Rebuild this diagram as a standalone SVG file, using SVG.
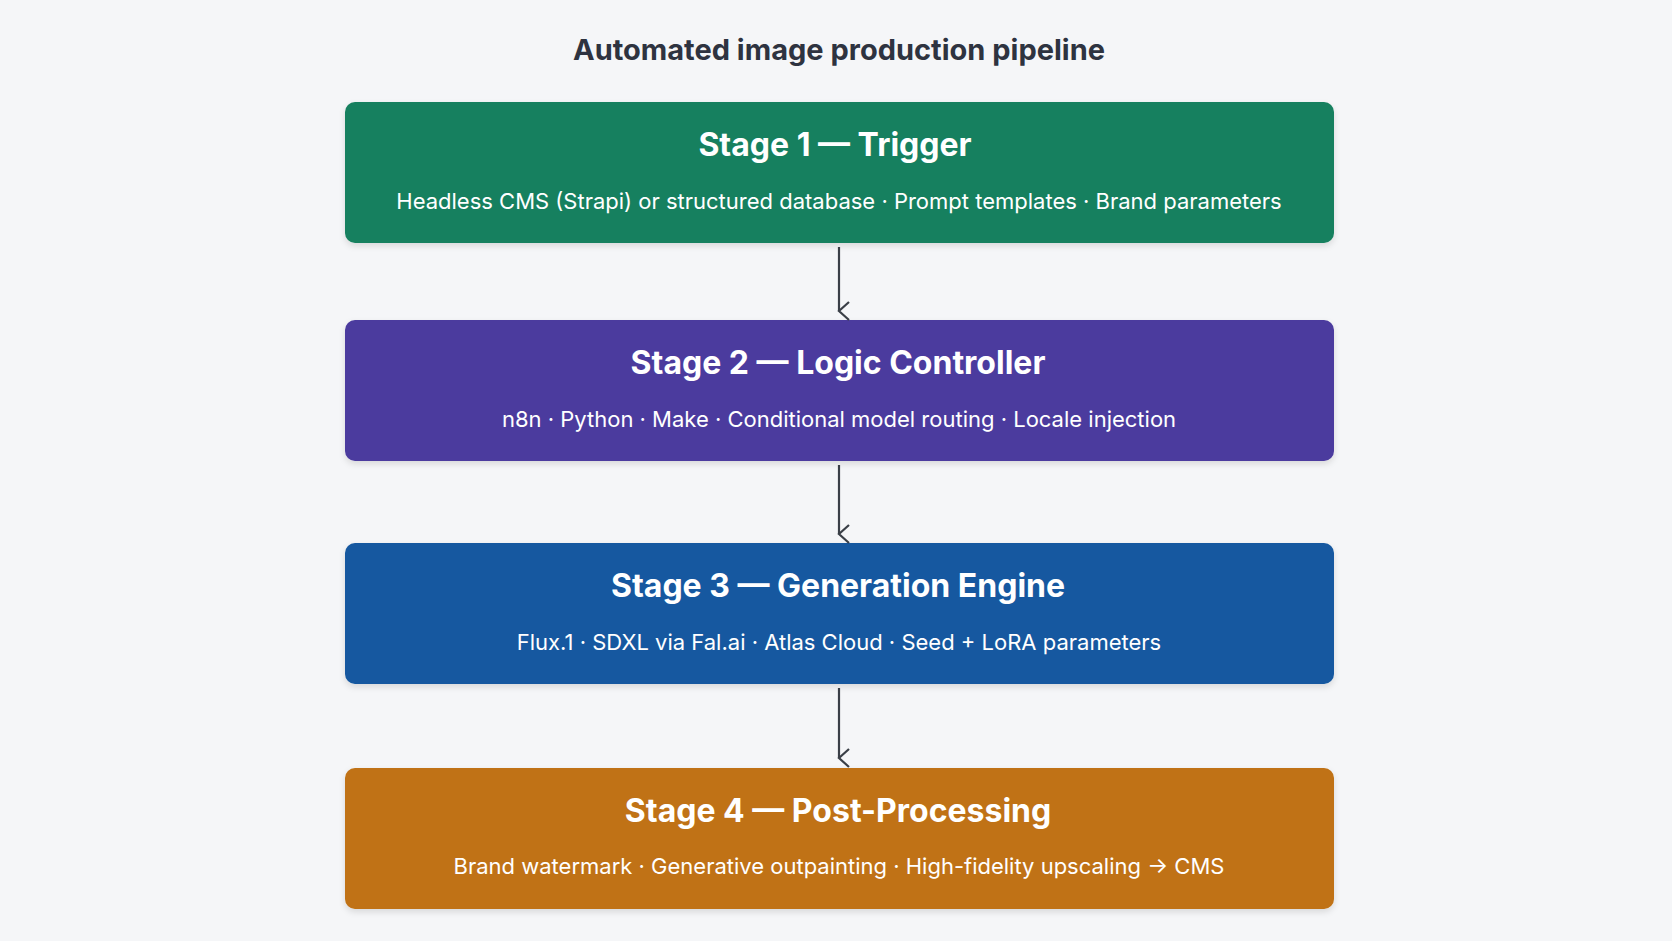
<svg xmlns="http://www.w3.org/2000/svg" width="1672" height="941" viewBox="0 0 1672 941">
<defs>
<marker id="ah" viewBox="0 0 20 20" refX="10" refY="18" markerWidth="20" markerHeight="20" markerUnits="userSpaceOnUse" orient="auto-start-reverse">
<path d="M1 8 L10 18 L19 8" fill="none" stroke="#3a3f47" stroke-width="2.2"/>
</marker>
<filter id="sh" x="-5%" y="-10%" width="110%" height="130%"><feDropShadow dx="0" dy="3" stdDeviation="3" flood-color="#000" flood-opacity="0.12"/></filter>
</defs>
<style>
text{font-family:Inter,"Open Sans","Liberation Sans",sans-serif;text-anchor:middle;fill:#fff}
.t{font-size:32px;font-weight:700}
.s{font-size:22px}
.box{filter:url(#sh)}
.c{stroke:#3a3f47;stroke-width:2.2;fill:none}
</style>
<rect width="1672" height="941" fill="#f5f6f8"/>
<text x="839" y="60" style="font-size:29px;font-weight:700;fill:#2e3340">Automated image production pipeline</text>
<g id="stage1"><rect class="box" x="345" y="102" width="989" height="141" rx="10" fill="#16805f"/>
<text class="t" x="835" y="156">Stage 1 — Trigger</text>
<text class="s" x="839" y="209">Headless CMS (Strapi) or structured database · Prompt templates · Brand parameters</text></g>
<g id="stage2"><rect class="box" x="345" y="320" width="989" height="141" rx="10" fill="#4b3a9e"/>
<text class="t" x="838" y="374">Stage 2 — Logic Controller</text>
<text class="s" x="839" y="427">n8n · Python · Make · Conditional model routing · Locale injection</text></g>
<g id="stage3"><rect class="box" x="345" y="543" width="989" height="141" rx="10" fill="#1458a0"/>
<text class="t" x="838" y="597">Stage 3 — Generation Engine</text>
<text class="s" x="839" y="650">Flux.1 · SDXL via Fal.ai · Atlas Cloud · Seed + LoRA parameters</text></g>
<g id="stage4"><rect class="box" x="345" y="768" width="989" height="141" rx="10" fill="#c07214"/>
<text class="t" x="838" y="822">Stage 4 — Post-Processing</text>
<text class="s" x="839" y="874">Brand watermark · Generative outpainting · High-fidelity upscaling → CMS</text></g>
<g id="connectors">
<line class="c" x1="839" y1="247" x2="839" y2="311" marker-end="url(#ah)"/>
<line class="c" x1="839" y1="465" x2="839" y2="534" marker-end="url(#ah)"/>
<line class="c" x1="839" y1="688" x2="839" y2="758" marker-end="url(#ah)"/>
</g>
</svg>
